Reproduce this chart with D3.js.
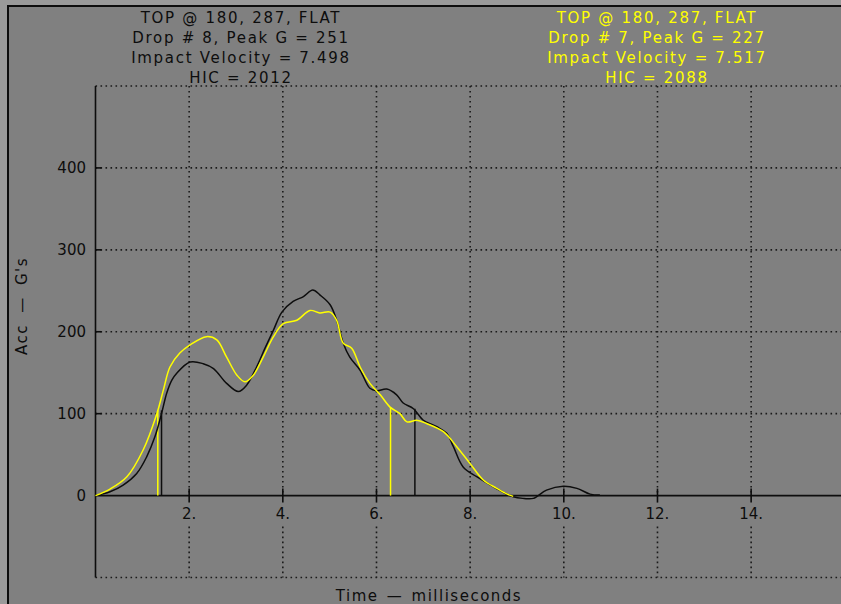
<!DOCTYPE html>
<html><head><meta charset="utf-8">
<script src="https://cdn.jsdelivr.net/npm/d3@7"></script>
<style>
html,body{margin:0;padding:0;background:#999999;}
svg{display:block;}
text{font-family:"DejaVu Sans",sans-serif;}
</style></head>
<body>
<svg id="c" width="841" height="604"></svg>
<script>
// ---- data ----
const xTicks = [2, 4, 6, 8, 10, 12, 14];
const yTicks = [0, 100, 200, 300, 400];
const xLabel = "Time \u2014 milliseconds";
const yLabel = "Acc \u2014 G's";

const drop8Label = ["TOP @ 180, 287, FLAT", "Drop # 8, Peak G = 251", "Impact Velocity = 7.498", "HIC = 2012"];
const drop7Label = ["TOP @ 180, 287, FLAT", "Drop # 7, Peak G = 227", "Impact Velocity = 7.517", "HIC = 2088"];

// Drop 8 (black): time (ms), acceleration (G)
const drop8Time = [0, 0.31, 0.59, 0.88, 1.09, 1.27, 1.41, 1.52, 1.63, 1.73, 2.02, 2.30, 2.52, 2.80, 3.05, 3.23, 3.44, 3.62, 3.80, 3.98, 4.22, 4.44, 4.64, 4.79, 5.01, 5.15, 5.29, 5.43, 5.65, 5.86, 6.00, 6.22, 6.43, 6.57, 6.79, 7.00, 7.29, 7.50, 7.64, 7.85, 8.14, 8.49, 8.92, 9.15, 9.35, 9.63, 9.99, 10.28, 10.56, 10.77];
const drop8G    = [0, 4.6, 12.8, 27, 47, 72, 100, 125, 141, 149, 163, 161, 155, 137, 127, 135, 157, 180, 202, 224, 237, 243, 251, 245, 233, 214, 186, 169, 153, 131, 128, 130, 123, 113, 106, 92, 84, 76, 60, 35, 23, 11, -1.5, -3.5, -3.4, 6.7, 11.5, 8.8, 1.8, 0.6];

// Drop 7 (yellow)
const drop7Time = [0, 0.31, 0.67, 1.02, 1.31, 1.45, 1.59, 1.80, 2.02, 2.37, 2.59, 2.80, 3.02, 3.19, 3.37, 3.58, 3.80, 4.01, 4.30, 4.58, 4.79, 5.01, 5.15, 5.29, 5.47, 5.65, 5.86, 6.08, 6.29, 6.50, 6.65, 6.86, 7.07, 7.43, 7.71, 8.00, 8.28, 8.57, 8.78, 8.92];
const drop7G    = [0, 8, 23, 56, 100, 129, 157, 174, 184, 194, 190, 169, 147, 139, 147, 169, 194, 210, 214, 226, 223, 224, 214, 186, 180, 157, 137, 123, 108, 100, 90, 92, 88, 78, 60, 39, 19, 8.8, 2, -1];

// HIC window markers [time, G]
const drop8Hic = [[1.41, 104], [6.82, 106]];
const drop7Hic = [[1.33, 104], [6.30, 108]];

// ---- drawing ----
const svg = d3.select("#c");
const W = 841, H = 604;
const ink = "#0d0d0d";

// frame
svg.append("rect").attr("x", 0).attr("y", 0).attr("width", W).attr("height", H).attr("fill", "#9a9a9a");
svg.append("rect").attr("x", 7).attr("y", 5).attr("width", W - 7).attr("height", H - 5).attr("fill", "#808080");
svg.append("line").attr("x1", 8).attr("x2", 8).attr("y1", 5).attr("y2", H).attr("stroke", ink).attr("stroke-width", 2);
svg.append("line").attr("x1", 7).attr("x2", W).attr("y1", 6).attr("y2", 6).attr("stroke", ink).attr("stroke-width", 2);

const x = d3.scaleLinear().domain([0, 16]).range([95.5, 844.8]);
const y = d3.scaleLinear().domain([-100, 500]).range([577.5, 86]);

const dotted = {stroke: "#1a1a1a", "stroke-width": 1.6, "stroke-dasharray": "1.6,3.4"};
function applyAttrs(sel, obj) { for (const k in obj) sel.attr(k, obj[k]); return sel; }

// horizontal gridlines (100..500 and -100)
const hGrid = yTicks.filter(v => v !== 0).concat([500, -100]);
applyAttrs(svg.append("g").selectAll("line").data(hGrid).join("line")
  .attr("x1", x(0)).attr("x2", W)
  .attr("y1", d => y(d)).attr("y2", d => y(d)), dotted);

// vertical gridlines (upper part and lower part, gap for labels)
applyAttrs(svg.append("g").selectAll("line").data(xTicks).join("line")
  .attr("x1", d => x(d)).attr("x2", d => x(d))
  .attr("y1", y(500)).attr("y2", y(0)), dotted);
applyAttrs(svg.append("g").selectAll("line").data(xTicks).join("line")
  .attr("x1", d => x(d)).attr("x2", d => x(d))
  .attr("y1", y(0) + 31).attr("y2", y(-100)), dotted);

// axes lines
svg.append("line").attr("x1", x(0)).attr("x2", x(0)).attr("y1", y(500)).attr("y2", y(-100))
  .attr("stroke", ink).attr("stroke-width", 1.6);
svg.append("line").attr("x1", x(0)).attr("x2", W).attr("y1", y(0)).attr("y2", y(0))
  .attr("stroke", ink).attr("stroke-width", 1.6);

// y ticks
svg.append("g").selectAll("line").data(yTicks.filter(v => v !== 0)).join("line")
  .attr("x1", x(0)).attr("x2", x(0) + 6).attr("y1", d => y(d)).attr("y2", d => y(d))
  .attr("stroke", ink).attr("stroke-width", 1.6);
svg.append("g").selectAll("text").data(yTicks).join("text")
  .attr("x", 86).attr("y", d => y(d) + 5.5).attr("text-anchor", "end")
  .attr("font-size", 15).attr("fill", ink).text(d => d);

// x ticks
svg.append("g").selectAll("line").data(xTicks).join("line")
  .attr("x1", d => x(d)).attr("x2", d => x(d)).attr("y1", y(0) - 7).attr("y2", y(0) + 7)
  .attr("stroke", ink).attr("stroke-width", 1.6);
svg.append("g").selectAll("text").data(xTicks).join("text")
  .attr("x", d => x(d)).attr("y", y(0) + 23).attr("text-anchor", "middle")
  .attr("font-size", 15).attr("fill", ink).text(d => d + ".");

// axis titles
svg.append("text").attr("x", 429).attr("y", 601).attr("text-anchor", "middle")
  .attr("font-size", 15).attr("fill", ink).attr("letter-spacing", 1.5).attr("word-spacing", 2).text(xLabel);
svg.append("text").attr("transform", "translate(27,306) rotate(-90)").attr("text-anchor", "middle")
  .attr("font-size", 15).attr("fill", ink).attr("letter-spacing", 1.5).attr("word-spacing", 5).text(yLabel);

// header texts
function header(lines, cx, color) {
  svg.append("g").selectAll("text").data(lines).join("text")
    .attr("x", cx).attr("y", (d, i) => 23 + i * 20).attr("text-anchor", "middle")
    .attr("font-size", 15).attr("fill", color).attr("letter-spacing", 1.7).text(d => d);
}
header(drop8Label, 241, ink);
header(drop7Label, 657, "#ffff00");

// curves
const line = d3.line().x(d => x(d[0])).y(d => y(d[1])).curve(d3.curveCatmullRom.alpha(0.5));
const d8 = drop8Time.map((t, i) => [t, drop8G[i]]);
const d7 = drop7Time.map((t, i) => [t, drop7G[i]]);

// HIC markers
svg.append("g").selectAll("line").data(drop7Hic).join("line")
  .attr("x1", d => x(d[0])).attr("x2", d => x(d[0])).attr("y1", y(0)).attr("y2", d => y(d[1]))
  .attr("stroke", "#ffff00").attr("stroke-width", 1.5);
svg.append("g").selectAll("line").data(drop8Hic).join("line")
  .attr("x1", d => x(d[0])).attr("x2", d => x(d[0])).attr("y1", y(0)).attr("y2", d => y(d[1]))
  .attr("stroke", ink).attr("stroke-width", 1.5);

svg.append("path").datum(d8).attr("d", line).attr("fill", "none").attr("stroke", ink).attr("stroke-width", 1.5);
svg.append("path").datum(d7).attr("d", line).attr("fill", "none").attr("stroke", "#ffff00").attr("stroke-width", 1.5);
</script>
</body></html>
